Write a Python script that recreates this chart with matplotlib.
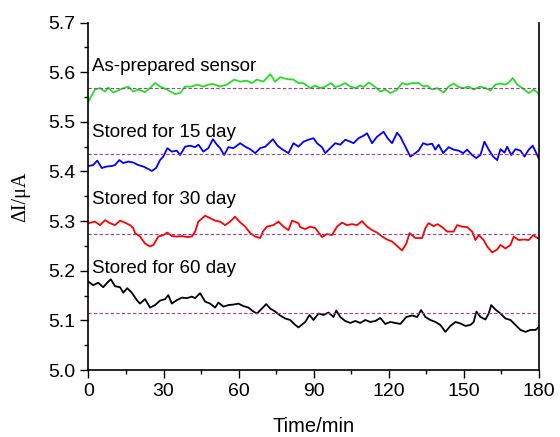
import matplotlib.pyplot as plt
import numpy as np

# current response of the sensor over 3 h, recorded after different storage times
t_fresh = [0, 2.6, 4.6, 6.6, 7.9, 9.9, 12.6, 15.9, 17.9, 19.9, 22.6, 24.6, 26.6, 28.6, 31.3,
           34.6, 36.6, 38.6, 41.3, 43.3, 45.9, 47.9, 49.9, 52.6, 55.3, 58.2, 60.6, 63.3, 65.3,
           67.3, 69.9, 72.6, 74.6, 76.6, 79.3, 81.9, 83.9, 85.9, 88.6, 90.6, 92.6, 94.6, 96.9,
           98.6, 100.6, 102.6, 104.6, 106.6, 108.6, 109.9, 111.9, 113.9, 116.6, 118.6, 120.6,
           121.9, 123.3, 125.3, 127.3, 129.3, 131.9, 133.9, 135.3, 137.3, 139.3, 141.9, 143.9,
           145.9, 147.9, 149.9, 151.9, 153.9, 156.6, 158.6, 160.6, 162.6, 164.6, 166.6, 167.9,
           169.5, 171.3, 173.3, 175.9, 177.9, 180]
i_fresh = [5.541, 5.565, 5.568, 5.561, 5.569, 5.559, 5.565, 5.571, 5.561, 5.565, 5.560, 5.568,
           5.578, 5.571, 5.565, 5.556, 5.558, 5.571, 5.571, 5.575, 5.571, 5.575, 5.576, 5.571,
           5.575, 5.585, 5.581, 5.583, 5.578, 5.585, 5.581, 5.596, 5.581, 5.590, 5.586, 5.585,
           5.578, 5.578, 5.568, 5.573, 5.568, 5.571, 5.578, 5.570, 5.573, 5.578, 5.571, 5.568,
           5.573, 5.570, 5.579, 5.573, 5.561, 5.565, 5.558, 5.561, 5.565, 5.578, 5.575, 5.578,
           5.578, 5.571, 5.573, 5.565, 5.568, 5.559, 5.571, 5.577, 5.570, 5.568, 5.571, 5.565,
           5.571, 5.568, 5.563, 5.575, 5.577, 5.575, 5.579, 5.588, 5.575, 5.568, 5.558, 5.565,
           5.556]

t_15 = [0, 1.9, 3.5, 5.3, 7.3, 9.3, 10.6, 12.3, 13.9, 15.9, 17.9, 19.9, 21.9, 23.9, 25.3, 27.0,
        28.6, 29.9, 31.5, 33.3, 35.3, 36.6, 38.6, 40.6, 42.6, 43.9, 45.9, 47.9, 49.7, 51.3, 52.6,
        54.2, 55.9, 57.9, 59.3, 60.6, 62.6, 64.6, 66.6, 68.6, 70.6, 71.9, 73.7, 75.5, 77.3, 79.9,
        81.9, 83.9, 85.9, 87.9, 89.9, 91.3, 93.3, 94.6, 96.6, 98.6, 100.6, 102.6, 104.6, 105.9,
        107.9, 109.9, 111.3, 113.3, 115.3, 117.9, 119.5, 121.3, 123.3, 124.6, 126.6, 128.6,
        130.6, 131.9, 133.7, 135.3, 137.3, 138.6, 139.9, 141.7, 143.9, 145.9, 147.9, 149.7,
        151.3, 153.3, 154.9, 156.6, 158.2, 159.9, 161.7, 163.3, 164.6, 166.2, 167.3, 168.9,
        170.6, 172.6, 174.2, 175.9, 177.5, 179.3, 180]
i_15 = [5.411, 5.413, 5.422, 5.407, 5.410, 5.411, 5.413, 5.423, 5.417, 5.420, 5.418, 5.413,
        5.410, 5.405, 5.401, 5.407, 5.423, 5.430, 5.447, 5.440, 5.442, 5.433, 5.450, 5.452,
        5.449, 5.454, 5.440, 5.447, 5.465, 5.454, 5.447, 5.433, 5.449, 5.447, 5.452, 5.457,
        5.450, 5.445, 5.437, 5.447, 5.450, 5.456, 5.465, 5.452, 5.445, 5.437, 5.457, 5.450,
        5.460, 5.464, 5.467, 5.457, 5.449, 5.437, 5.447, 5.457, 5.454, 5.464, 5.460, 5.457,
        5.467, 5.472, 5.477, 5.457, 5.470, 5.480, 5.467, 5.457, 5.478, 5.470, 5.450, 5.430,
        5.437, 5.442, 5.457, 5.454, 5.456, 5.444, 5.454, 5.437, 5.449, 5.444, 5.442, 5.437,
        5.444, 5.433, 5.427, 5.433, 5.460, 5.444, 5.430, 5.423, 5.445, 5.438, 5.450, 5.433,
        5.445, 5.442, 5.430, 5.444, 5.452, 5.433, 5.425]

t_30 = [0, 2.6, 4.6, 6.6, 8.6, 10.6, 12.6, 14.6, 16.6, 17.9, 18.6, 20.6, 22.6, 24.6, 25.9, 27.9,
        29.9, 31.5, 33.3, 35.3, 37.3, 39.3, 41.3, 42.6, 43.9, 46.6, 48.6, 50.6, 52.6, 54.6, 56.6,
        58.6, 60.3, 62.6, 64.6, 66.6, 68.6, 69.7, 71.3, 73.9, 75.9, 77.9, 79.9, 81.3, 83.9, 84.6,
        86.6, 88.6, 90.6, 93.3, 95.3, 97.3, 99.3, 101.3, 103.3, 105.3, 107.3, 109.3, 111.3,
        113.3, 115.3, 117.3, 119.3, 121.3, 123.3, 125.3, 127.0, 128.3, 130.6, 133.3, 134.6,
        135.9, 137.9, 139.5, 141.3, 143.3, 145.9, 147.3, 149.3, 151.3, 153.3, 154.6, 155.9,
        157.9, 159.3, 161.3, 163.3, 164.6, 166.6, 168.6, 169.9, 171.9, 173.9, 175.9, 177.7,
        179.3, 180]
i_30 = [5.296, 5.299, 5.292, 5.302, 5.296, 5.292, 5.301, 5.297, 5.292, 5.286, 5.276, 5.269,
        5.255, 5.249, 5.252, 5.269, 5.272, 5.277, 5.270, 5.269, 5.270, 5.268, 5.269, 5.279,
        5.299, 5.311, 5.306, 5.301, 5.299, 5.292, 5.299, 5.309, 5.299, 5.289, 5.276, 5.269,
        5.266, 5.279, 5.289, 5.292, 5.299, 5.289, 5.282, 5.301, 5.296, 5.288, 5.284, 5.289,
        5.286, 5.268, 5.274, 5.272, 5.289, 5.297, 5.292, 5.294, 5.292, 5.300, 5.289, 5.282,
        5.277, 5.269, 5.263, 5.259, 5.250, 5.241, 5.255, 5.276, 5.266, 5.266, 5.286, 5.296,
        5.290, 5.294, 5.288, 5.279, 5.279, 5.292, 5.289, 5.288, 5.279, 5.262, 5.272, 5.262,
        5.249, 5.237, 5.243, 5.252, 5.245, 5.252, 5.269, 5.262, 5.263, 5.262, 5.272, 5.266,
        5.266]

t_60 = [0, 1.9, 3.9, 5.9, 7.3, 8.9, 10.6, 12.6, 13.9, 15.5, 17.3, 19.3, 20.6, 22.6, 24.6, 26.6,
        28.6, 30.6, 31.9, 33.3, 35.3, 37.3, 39.3, 41.3, 42.6, 44.6, 46.6, 48.6, 50.6, 51.9, 53.9,
        55.9, 57.9, 59.9, 61.9, 63.9, 65.9, 67.3, 69.3, 71.0, 72.6, 74.6, 76.6, 78.6, 80.6, 82.6,
        83.9, 86.6, 88.3, 89.9, 91.9, 93.9, 95.9, 97.9, 99.0, 100.6, 102.6, 104.6, 106.6, 108.6,
        110.6, 112.6, 114.6, 116.6, 118.6, 120.6, 122.6, 124.6, 127.0, 129.3, 131.3, 132.9,
        134.6, 136.6, 138.6, 140.6, 142.6, 144.6, 146.6, 148.6, 150.6, 152.6, 153.9, 155.0,
        156.6, 158.6, 159.9, 160.9, 162.6, 164.6, 166.6, 168.6, 170.6, 172.6, 174.6, 176.6,
        178.6, 180]
i_60 = [5.178, 5.171, 5.176, 5.167, 5.175, 5.183, 5.169, 5.167, 5.156, 5.165, 5.156, 5.141,
        5.134, 5.143, 5.126, 5.131, 5.140, 5.143, 5.151, 5.134, 5.141, 5.146, 5.145, 5.148,
        5.145, 5.155, 5.138, 5.134, 5.126, 5.136, 5.128, 5.131, 5.132, 5.134, 5.129, 5.126,
        5.118, 5.114, 5.124, 5.133, 5.124, 5.118, 5.110, 5.104, 5.101, 5.091, 5.086, 5.097,
        5.111, 5.101, 5.114, 5.111, 5.116, 5.107, 5.120, 5.107, 5.099, 5.095, 5.099, 5.095,
        5.101, 5.097, 5.099, 5.105, 5.093, 5.097, 5.095, 5.093, 5.107, 5.110, 5.107, 5.121,
        5.107, 5.101, 5.097, 5.091, 5.077, 5.089, 5.097, 5.094, 5.089, 5.091, 5.097, 5.118,
        5.107, 5.102, 5.114, 5.131, 5.122, 5.114, 5.104, 5.101, 5.091, 5.081, 5.077, 5.081,
        5.081, 5.087]

labels = ['As-prepared sensor', 'Stored for 15 day', 'Stored for 30 day', 'Stored for 60 day']
levels = [5.568, 5.435, 5.274, 5.116]   # dotted reference levels
label_y = [5.611, 5.478, 5.343, 5.204]
colors = ['#22e022', '#0000ff', '#ff0000', '#000000']

plt.rcParams['font.family'] = ['Liberation Sans', 'DejaVu Sans']

fig = plt.figure(figsize=(5.6, 4.37), dpi=100)
ax = fig.add_axes([0.158, 0.153, 0.8045, 0.7955])

series = [(t_fresh, i_fresh), (t_15, i_15), (t_30, i_30), (t_60, i_60)]
for (t, i), c, lev, lab, ly in zip(series, colors, levels, labels, label_y):
    ax.plot(t, i, color=c, lw=1.3)
    ax.axhline(lev, color='#a03ca0', lw=0.8, ls=(0, (3, 2)))
    ax.text(1.5, ly, lab, fontsize=13.5, va='center', ha='left')

ax.set_xlim(0, 180)
ax.set_ylim(5.0, 5.7)
ax.set_xticks(np.arange(0, 181, 30))
ax.set_xticks(np.arange(15, 180, 30), minor=True)
ax.set_yticks(np.arange(5.0, 5.71, 0.1))
ax.set_yticks(np.arange(5.05, 5.7, 0.1), minor=True)
ax.set_yticklabels([f'{v:.1f}' for v in np.arange(5.0, 5.71, 0.1)])
ax.tick_params(which='both', direction='out', labelsize=14, width=1, right=False, top=False)
ax.tick_params(which='major', length=6)
ax.tick_params(which='minor', length=3)
ax.spines['top'].set_visible(False)
for s in ['left', 'right', 'bottom']:
    ax.spines[s].set_linewidth(1.2)

ax.set_xlabel('Time/min', fontsize=14.5, labelpad=12)
ax.set_ylabel('ΔI/μA', fontsize=14.5, family=['Liberation Serif', 'DejaVu Serif'])
ax.yaxis.set_label_coords(-0.13, 0.5)

fig.savefig('out.png', dpi=100)
